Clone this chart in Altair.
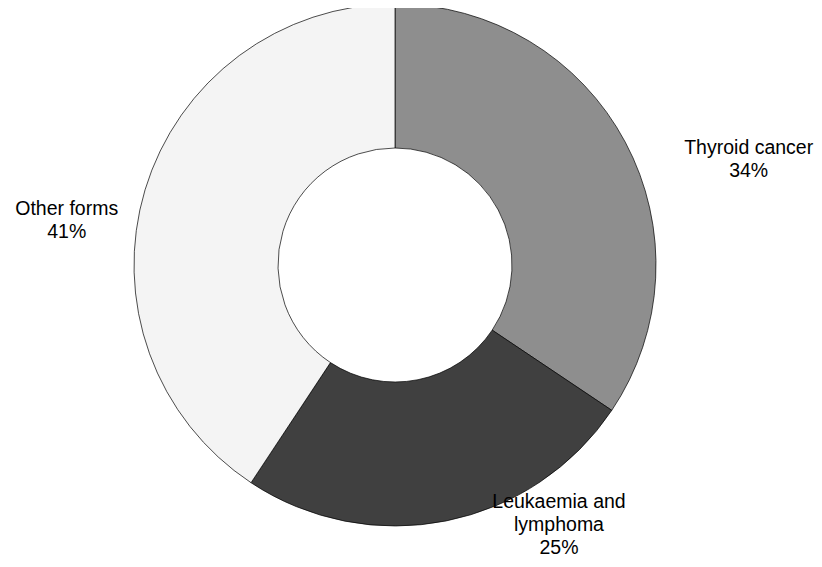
import altair as alt
import pandas as pd

categories = ["Thyroid cancer", "Leukaemia and lymphoma", "Other forms"]
shares = [34.4, 24.9, 40.7]
labels = ["Thyroid cancer|34%", "Leukaemia and|lymphoma|25%", "Other forms|41%"]
colors = ["#8e8e8e", "#404040", "#f4f4f4"]

df = pd.DataFrame({
    "cat": categories,
    "share": shares,
    "label": labels,
    "idx": list(range(len(categories))),
})

CX, CY = 387, 257

base = alt.Chart(df).encode(
    theta=alt.Theta("share:Q", stack=True),
    order=alt.Order("idx:Q"),
    x=alt.value(CX),
    y=alt.value(CY),
)

arc = base.mark_arc(outerRadius=261, innerRadius=117, stroke="black", strokeWidth=0.7).encode(
    color=alt.Color("cat:N", scale=alt.Scale(domain=categories, range=colors), legend=None),
)

offsets = [(89, 30), (105, -51), (-41, 36)]
layers = [arc]
for cat, (ddx, ddy) in zip(categories, offsets):
    t = base.transform_calculate(lines="split(datum.label, '|')").mark_text(
        font="Liberation Sans", fontSize=19.5, align="center", baseline="alphabetic",
        lineHeight=23, dx=ddx, dy=ddy, color="black",
    ).encode(
        radius=alt.value(300),
        text=alt.condition(alt.datum.cat == cat, alt.Text("lines:N"), alt.value("")),
    )
    layers.append(t)

chart = alt.layer(*layers).properties(
    width=806, height=551,
    autosize=alt.AutoSizeParams(type="none"),
    padding=0,
).configure_view(stroke=None)

chart.save("out.html", embed_options={"renderer": "svg", "actions": False})
